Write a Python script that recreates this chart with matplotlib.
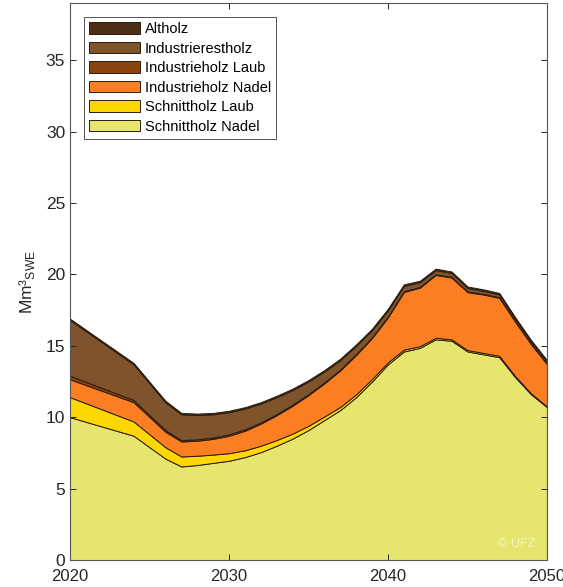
import numpy as np
import matplotlib.pyplot as plt

plt.rcParams['font.family'] = ['Liberation Sans', 'DejaVu Sans']

# years of the scenario
years = [2020, 2024, 2026, 2027, 2028, 2029, 2030, 2031, 2032, 2033, 2034,
         2035, 2036, 2037, 2038, 2039, 2040, 2041, 2042, 2043, 2044, 2045,
         2046, 2047, 2048, 2049, 2050]

# layer thicknesses in Mm3 SWE (bottom to top)
schnittholz_nadel = [10.0, 8.7, 7.1, 6.55, 6.65, 6.8, 6.95, 7.2, 7.55, 8.0, 8.5,
                     9.1, 9.8, 10.5, 11.4, 12.5, 13.7, 14.6, 14.85, 15.45, 15.35, 14.6,
                     14.4, 14.2, 12.8, 11.6, 10.7]
schnittholz_laub = [1.4, 1.0, 0.8, 0.7, 0.65, 0.58, 0.53, 0.48, 0.45, 0.4, 0.35,
                    0.3, 0.25, 0.22, 0.2, 0.18, 0.15, 0.13, 0.12, 0.11, 0.1, 0.1,
                    0.1, 0.1, 0.08, 0.07, 0.05]
industrieholz_nadel = [1.25, 1.35, 1.08, 1.05, 1.05, 1.1, 1.22, 1.37, 1.55, 1.74, 1.95,
                       2.15, 2.32, 2.56, 2.76, 2.87, 3.15, 4.04, 4.1, 4.4, 4.33, 4.06,
                       4.09, 4.06, 3.81, 3.44, 2.97]
industrieholz_laub = [0.25, 0.15, 0.12, 0.1, 0.1, 0.1, 0.1, 0.1, 0.08, 0.08, 0.08,
                      0.07, 0.07, 0.06, 0.06, 0.05, 0.05, 0.05, 0.05, 0.04, 0.04, 0.04,
                      0.04, 0.04, 0.03, 0.03, 0.03]
industrierestholz = [3.9, 2.5, 1.95, 1.8, 1.7, 1.62, 1.55, 1.45, 1.32, 1.18, 1.02,
                     0.88, 0.76, 0.66, 0.58, 0.5, 0.45, 0.38, 0.33, 0.3, 0.28, 0.25,
                     0.22, 0.2, 0.18, 0.16, 0.15]
altholz = [0.1] * len(years)

labels = ['Schnittholz Nadel', 'Schnittholz Laub', 'Industrieholz Nadel',
          'Industrieholz Laub', 'Industrierestholz', 'Altholz']
colors = ['#E6E66E', '#FFD700', '#FC7E22', '#8B4312', '#7F532C', '#4B2F15']

fig = plt.figure(figsize=(5.63, 5.87), dpi=100)
ax = fig.add_axes([0.1243, 0.046, 0.8472, 0.9489])

polys = ax.stackplot(years, schnittholz_nadel, schnittholz_laub, industrieholz_nadel,
                     industrieholz_laub, industrierestholz, altholz,
                     labels=labels, colors=colors, edgecolor='#2b1d0e', linewidth=0.7)

ax.set_xlim(2020, 2050)
ax.set_ylim(0, 39)
ax.set_xticks([2020, 2030, 2040, 2050])
ax.set_yticks(np.arange(0, 36, 5))
ax.tick_params(direction='in', length=4, width=0.7, color='#262626',
               labelsize=12.5, labelcolor='#262626', top=True, right=True)
ax.tick_params(axis='x', pad=6.5, labelsize=12)
for s in ax.spines.values():
    s.set_color('#555555')
    s.set_linewidth(0.8)

ax.set_ylabel('Mm³$_{\\mathregular{SWE}}$', fontsize=12.5, color='#262626', labelpad=6)

ax.text(0.975, 0.018, '© UFZ', transform=ax.transAxes, ha='right', va='bottom',
        fontsize=9, color='white', alpha=0.5)

h, l = ax.get_legend_handles_labels()
leg = ax.legend(h[::-1], l[::-1], loc='upper left', bbox_to_anchor=(0.029, 0.975),
                fontsize=10.5, frameon=True, fancybox=False, handlelength=3.5,
                handleheight=0.85, labelspacing=0.38, borderpad=0.35, handletextpad=0.35,
                borderaxespad=0)
leg.get_frame().set_edgecolor('#262626')
leg.get_frame().set_linewidth(0.7)

fig.savefig('out.png', dpi=100)
